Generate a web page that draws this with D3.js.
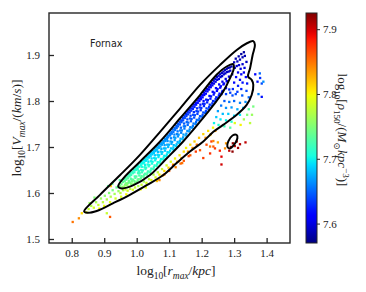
<!DOCTYPE html>
<html>
<head>
<meta charset="utf-8">
<script src="https://cdn.jsdelivr.net/npm/d3@7"></script>
<style>
  body { margin: 0; background: #fff; }
  svg { display: block; }
  .tick-label { font-family: "Liberation Serif", "DejaVu Serif", serif; font-size: 11px; fill: #222; }
  .math { font-family: "Liberation Serif", "DejaVu Serif", serif; fill: #222; }
</style>
</head>
<body>
<div id="chart"></div>
<script>
// scatter points: [log10 rmax, log10 vmax, log10 rho150]
const bandLower = [
  [0.948,1.615,7.75],[0.953,1.619,7.74],[0.956,1.613,7.755],
  [0.961,1.630,7.725],[0.958,1.624,7.735],[0.964,1.618,7.75],[0.962,1.614,7.76],
  [0.972,1.636,7.72],[0.968,1.629,7.73],[0.974,1.622,7.74],[0.969,1.617,7.755],[0.975,1.614,7.76],
  [0.981,1.643,7.715],[0.978,1.636,7.725],[0.984,1.629,7.735],[0.979,1.623,7.74],[0.985,1.618,7.755],[0.982,1.631,7.73],
  [0.992,1.650,7.71],[0.988,1.643,7.72],[0.994,1.636,7.725],[0.989,1.629,7.735],[0.995,1.623,7.745],[0.991,1.619,7.755],
  [1.002,1.657,7.705],[0.998,1.650,7.715],[1.004,1.643,7.72],[0.999,1.636,7.73],[1.005,1.630,7.735],[1.001,1.624,7.745],[1.006,1.648,7.72],
  [1.012,1.664,7.70],[1.008,1.657,7.71],[1.014,1.650,7.715],[1.009,1.643,7.72],[1.015,1.637,7.73],[1.011,1.630,7.74],[1.007,1.647,7.715],
  [1.022,1.671,7.695],[1.018,1.664,7.70],[1.024,1.656,7.71],[1.019,1.649,7.715],[1.025,1.642,7.725],[1.021,1.635,7.735],[1.016,1.657,7.705],
  [1.032,1.678,7.69],[1.028,1.670,7.695],[1.034,1.662,7.705],[1.029,1.655,7.71],[1.035,1.647,7.72],[1.031,1.640,7.73],[1.026,1.661,7.70],
  [1.042,1.685,7.685],[1.038,1.677,7.69],[1.044,1.669,7.70],[1.039,1.661,7.705],[1.045,1.653,7.715],[1.041,1.645,7.725],[1.036,1.668,7.695],
  [1.052,1.691,7.68],[1.048,1.684,7.685],[1.054,1.676,7.695],[1.049,1.668,7.70],[1.055,1.660,7.71],[1.051,1.652,7.72],[1.046,1.675,7.69],
  [1.062,1.699,7.675],[1.058,1.691,7.68],[1.064,1.683,7.69],[1.059,1.675,7.695],[1.065,1.667,7.705],[1.061,1.659,7.715],[1.056,1.682,7.685],
  [1.072,1.706,7.67],[1.068,1.698,7.675],[1.074,1.690,7.685],[1.069,1.682,7.69],[1.075,1.674,7.70],[1.071,1.666,7.71],[1.066,1.689,7.68],
  [1.082,1.713,7.665],[1.078,1.705,7.67],[1.084,1.697,7.68],[1.079,1.689,7.685],[1.085,1.681,7.695],[1.081,1.673,7.705],[1.076,1.696,7.675],
  [1.092,1.721,7.66],[1.088,1.713,7.665],[1.094,1.705,7.675],[1.089,1.697,7.68],[1.095,1.689,7.69],[1.091,1.680,7.70],[1.086,1.704,7.67]
];
const bandUpper = [
  [1.102,1.729,7.655],[1.097,1.721,7.66],[1.104,1.712,7.672],[1.099,1.705,7.675],[1.106,1.697,7.685],[1.100,1.688,7.695],[1.095,1.713,7.665],
  [1.111,1.738,7.65],[1.108,1.729,7.655],[1.115,1.721,7.665],[1.109,1.711,7.672],[1.114,1.704,7.68],[1.112,1.695,7.69],[1.106,1.719,7.66],
  [1.122,1.746,7.645],[1.118,1.737,7.655],[1.124,1.728,7.66],[1.119,1.720,7.67],[1.126,1.711,7.675],[1.121,1.702,7.69],[1.116,1.727,7.66],
  [1.132,1.754,7.64],[1.127,1.745,7.65],[1.134,1.736,7.66],[1.129,1.727,7.665],[1.135,1.718,7.675],[1.131,1.709,7.685],[1.126,1.734,7.655],
  [1.142,1.763,7.635],[1.138,1.754,7.645],[1.145,1.745,7.655],[1.139,1.736,7.66],[1.144,1.727,7.67],[1.141,1.717,7.68],[1.136,1.742,7.65],
  [1.152,1.772,7.63],[1.148,1.763,7.64],[1.154,1.754,7.65],[1.149,1.745,7.655],[1.156,1.735,7.665],[1.151,1.725,7.675],[1.146,1.751,7.645],
  [1.162,1.780,7.625],[1.158,1.771,7.635],[1.164,1.762,7.645],[1.159,1.753,7.65],[1.165,1.743,7.66],[1.161,1.734,7.67],[1.156,1.760,7.64],
  [1.172,1.788,7.62],[1.168,1.779,7.63],[1.174,1.770,7.64],[1.169,1.761,7.645],[1.175,1.751,7.655],[1.171,1.742,7.665],[1.166,1.768,7.635],
  [1.182,1.796,7.618],[1.178,1.787,7.625],[1.184,1.778,7.635],[1.179,1.769,7.64],[1.185,1.759,7.65],[1.181,1.750,7.66],[1.176,1.776,7.63],
  [1.192,1.805,7.612],[1.188,1.796,7.62],[1.194,1.786,7.63],[1.189,1.777,7.635],[1.195,1.767,7.645],[1.191,1.758,7.655],[1.186,1.784,7.625],
  [1.202,1.813,7.608],[1.198,1.804,7.615],[1.204,1.794,7.625],[1.199,1.785,7.63],[1.205,1.775,7.64],[1.201,1.766,7.65],[1.196,1.792,7.62],
  [1.212,1.822,7.605],[1.208,1.813,7.612],[1.214,1.803,7.62],[1.209,1.794,7.627],[1.215,1.784,7.635],[1.211,1.774,7.645],[1.206,1.800,7.617],
  [1.222,1.830,7.60],[1.218,1.821,7.608],[1.224,1.811,7.617],[1.219,1.802,7.623],[1.225,1.792,7.63],[1.221,1.782,7.64],
  [1.232,1.839,7.598],[1.228,1.830,7.605],[1.234,1.820,7.613],[1.229,1.810,7.62],[1.235,1.800,7.628],[1.231,1.790,7.638],
  [1.242,1.848,7.595],[1.238,1.838,7.602],[1.244,1.828,7.61],[1.239,1.818,7.617],[1.245,1.808,7.625],[1.241,1.799,7.635],
  [1.252,1.855,7.592],[1.248,1.846,7.598],[1.254,1.836,7.606],[1.249,1.826,7.612],[1.255,1.816,7.62],[1.251,1.807,7.63],
  [1.262,1.861,7.59],[1.258,1.852,7.596],[1.264,1.842,7.603],[1.259,1.832,7.61],[1.265,1.822,7.617],[1.261,1.815,7.625],
  [1.272,1.867,7.588],[1.268,1.858,7.594],[1.274,1.848,7.60],[1.269,1.838,7.606],[1.275,1.828,7.614],
  [1.282,1.872,7.585],[1.278,1.863,7.592],[1.284,1.853,7.598],[1.279,1.843,7.605],
  [1.292,1.875,7.585],[1.288,1.866,7.59],[1.294,1.858,7.597]
];
const bandFill = [
  [0.966,1.633,7.725],[0.963,1.626,7.735],[0.967,1.621,7.745],
  [0.977,1.640,7.72],[0.973,1.632,7.73],[0.976,1.626,7.74],[0.971,1.620,7.75],
  [0.987,1.646,7.715],[0.983,1.639,7.72],[0.986,1.625,7.745],[0.983,1.620,7.75],
  [0.997,1.653,7.71],[0.993,1.645,7.715],[0.996,1.633,7.73],[0.993,1.626,7.74],
  [1.004,1.660,7.705],[1.003,1.652,7.71],[1.008,1.638,7.725],[1.003,1.628,7.74],
  [1.017,1.667,7.70],[1.013,1.660,7.705],[1.016,1.645,7.72],[1.013,1.633,7.735],
  [1.027,1.674,7.695],[1.023,1.666,7.70],[1.027,1.652,7.715],[1.023,1.639,7.73],
  [1.037,1.681,7.69],[1.033,1.673,7.695],[1.037,1.658,7.71],[1.033,1.644,7.725],
  [1.047,1.688,7.685],[1.043,1.680,7.69],[1.047,1.664,7.705],[1.043,1.649,7.72],
  [1.057,1.695,7.68],[1.053,1.687,7.685],[1.057,1.671,7.70],[1.053,1.656,7.715],
  [1.067,1.702,7.675],[1.063,1.694,7.68],[1.067,1.678,7.695],[1.063,1.663,7.71],
  [1.077,1.709,7.67],[1.073,1.701,7.675],[1.077,1.685,7.69],[1.073,1.670,7.705],
  [1.087,1.717,7.665],[1.083,1.709,7.67],[1.087,1.692,7.685],[1.083,1.677,7.70],
  [1.097,1.725,7.66],[1.093,1.717,7.665],[1.097,1.700,7.68],[1.093,1.684,7.695],
  [1.107,1.733,7.655],[1.103,1.725,7.66],[1.107,1.707,7.675],[1.103,1.692,7.69],
  [1.117,1.741,7.65],[1.113,1.733,7.655],[1.117,1.715,7.67],[1.113,1.699,7.685],
  [1.127,1.750,7.645],[1.123,1.741,7.65],[1.127,1.723,7.665],[1.123,1.706,7.68],
  [1.137,1.758,7.64],[1.133,1.749,7.645],[1.137,1.731,7.66],[1.133,1.713,7.675],
  [1.147,1.767,7.635],[1.143,1.758,7.64],[1.147,1.740,7.655],[1.143,1.721,7.67],
  [1.157,1.776,7.63],[1.153,1.767,7.635],[1.157,1.748,7.65],[1.153,1.729,7.665],
  [1.167,1.784,7.625],[1.163,1.775,7.63],[1.167,1.756,7.645],[1.163,1.738,7.66],
  [1.177,1.792,7.62],[1.173,1.783,7.625],[1.177,1.764,7.64],[1.173,1.746,7.655],
  [1.187,1.801,7.615],[1.183,1.792,7.62],[1.187,1.772,7.635],[1.183,1.754,7.65],
  [1.197,1.809,7.61],[1.193,1.800,7.615],[1.197,1.780,7.63],[1.193,1.762,7.645],
  [1.207,1.818,7.607],[1.203,1.808,7.612],[1.207,1.789,7.627],[1.203,1.770,7.64],
  [1.217,1.826,7.603],[1.213,1.816,7.61],[1.217,1.797,7.623],[1.213,1.778,7.637],
  [1.227,1.835,7.60],[1.223,1.825,7.607],[1.227,1.805,7.62],[1.223,1.787,7.633],
  [1.237,1.844,7.597],[1.233,1.834,7.604],[1.237,1.814,7.617],[1.233,1.795,7.63],
  [1.247,1.852,7.594],[1.243,1.842,7.60],[1.247,1.822,7.614],[1.243,1.804,7.627],
  [1.257,1.858,7.59],[1.253,1.848,7.597],[1.257,1.829,7.61],[1.253,1.812,7.623],
  [1.267,1.864,7.588],[1.263,1.854,7.594],[1.267,1.836,7.606],[1.263,1.820,7.62],
  [1.277,1.870,7.586],[1.273,1.860,7.592],[1.277,1.843,7.603],
  [1.287,1.873,7.585],[1.283,1.864,7.59],[1.287,1.852,7.60]
];
const tipCluster = [
  [1.300,1.884,7.588],[1.305,1.892,7.585],[1.310,1.886,7.59],[1.314,1.897,7.582],[1.318,1.890,7.588],
  [1.322,1.902,7.58],[1.326,1.895,7.585],[1.330,1.906,7.58],[1.333,1.898,7.585],[1.302,1.872,7.595],
  [1.308,1.876,7.592],[1.315,1.878,7.598],[1.320,1.870,7.60],[1.326,1.880,7.595],[1.332,1.872,7.60],
  [1.338,1.885,7.59],[1.312,1.862,7.605],[1.322,1.858,7.61],[1.330,1.862,7.605],[1.336,1.852,7.612],
  [1.318,1.846,7.615],[1.306,1.852,7.61],[1.326,1.840,7.62],[1.300,1.840,7.615],[1.312,1.833,7.625],
  [1.296,1.826,7.628],[1.288,1.818,7.635],[1.305,1.815,7.64],[1.322,1.826,7.625],[1.340,1.838,7.62]
];
const rightFringe = [
  [1.275,1.815,7.635],[1.285,1.825,7.628],[1.295,1.812,7.64],[1.310,1.820,7.635],[1.325,1.812,7.645],
  [1.338,1.822,7.64],[1.345,1.808,7.65],[1.270,1.800,7.645],[1.285,1.798,7.655],[1.300,1.800,7.65],
  [1.318,1.796,7.66],[1.335,1.798,7.665],[1.260,1.790,7.655],[1.275,1.785,7.665],[1.292,1.786,7.668],
  [1.310,1.782,7.675],[1.328,1.785,7.68],[1.250,1.778,7.67],[1.265,1.772,7.68],[1.282,1.772,7.685],
  [1.300,1.768,7.69],[1.318,1.770,7.695],[1.245,1.765,7.685],[1.258,1.760,7.695],[1.275,1.758,7.70],
  [1.292,1.755,7.71],[1.238,1.752,7.70],[1.252,1.748,7.71],[1.270,1.745,7.72],[1.288,1.742,7.73],
  [1.372,1.842,7.62],[1.380,1.850,7.63],[1.365,1.858,7.615],[1.385,1.838,7.64],[1.375,1.815,7.66],
  [1.379,1.860,7.65],[1.390,1.842,7.665],[1.385,1.809,7.62],
  [1.302,1.752,7.79],[1.320,1.748,7.80],[1.349,1.752,7.775],[1.359,1.788,7.745],[1.340,1.770,7.75],
  [1.330,1.760,7.765],[1.355,1.770,7.76],[1.345,1.782,7.73]
];
const lowerGap = [
  [1.005,1.615,7.77],[1.015,1.618,7.78],[1.022,1.625,7.765],[1.030,1.622,7.785],[1.038,1.630,7.775],
  [1.045,1.628,7.79],[1.012,1.608,7.80],[1.028,1.612,7.795],
  [1.052,1.640,7.77],[1.058,1.634,7.79],[1.065,1.645,7.775],[1.070,1.640,7.80],[1.078,1.652,7.78],
  [1.085,1.648,7.81],[1.092,1.660,7.785],[1.098,1.655,7.815],[1.062,1.626,7.82],[1.080,1.638,7.83],
  [1.105,1.668,7.79],[1.112,1.662,7.82],[1.118,1.675,7.80],[1.125,1.668,7.83],[1.132,1.682,7.805],
  [1.138,1.676,7.835],[1.145,1.690,7.81],[1.120,1.656,7.845],[1.140,1.665,7.85],
  [1.152,1.698,7.80],[1.158,1.690,7.835],[1.165,1.705,7.81],[1.172,1.698,7.84],[1.178,1.712,7.815],
  [1.185,1.705,7.85],[1.192,1.720,7.82],[1.165,1.682,7.86],[1.182,1.690,7.87],
  [1.205,1.728,7.815],[1.212,1.720,7.84],[1.220,1.735,7.81],[1.228,1.728,7.845],[1.235,1.742,7.80],
  [1.242,1.735,7.835],[1.215,1.705,7.865],[1.230,1.712,7.87],
  [1.085,1.640,7.85],[1.100,1.648,7.855],[1.112,1.660,7.86],[1.135,1.664,7.855],[1.145,1.670,7.86],
  [1.160,1.680,7.865],[1.070,1.628,7.84]
];
const redClump = [
  [1.290,1.700,7.915],[1.296,1.708,7.92],[1.302,1.702,7.91],[1.285,1.692,7.905],[1.312,1.698,7.915],
  [1.318,1.706,7.91],[1.335,1.710,7.905],[1.308,1.712,7.90],[1.295,1.690,7.92],
  [1.195,1.693,7.86],[1.205,1.676,7.87],[1.226,1.686,7.875],[1.226,1.701,7.85],[1.236,1.701,7.86],
  [1.241,1.697,7.87],[1.256,1.692,7.88],[1.261,1.679,7.895],[1.261,1.662,7.90],[1.272,1.697,7.84],
  [1.236,1.713,7.845],[1.226,1.726,7.81],[1.250,1.710,7.83],[1.275,1.708,7.835]
];
const lowerLeft = [
  [0.852,1.565,7.78],[0.860,1.572,7.77],[0.868,1.568,7.785],[0.875,1.580,7.765],[0.882,1.574,7.78],
  [0.890,1.588,7.76],[0.896,1.580,7.775],[0.902,1.594,7.755],[0.908,1.586,7.77],[0.915,1.600,7.75],
  [0.920,1.592,7.77],[0.926,1.606,7.745],[0.932,1.598,7.765],[0.938,1.612,7.74],[0.944,1.604,7.76],
  [0.950,1.600,7.775],[0.958,1.606,7.77],[0.965,1.608,7.78],[0.972,1.605,7.785],[0.980,1.609,7.775],
  [0.988,1.607,7.79],[0.995,1.612,7.78],[0.885,1.566,7.80],[0.900,1.572,7.795],[0.918,1.580,7.79],
  [0.935,1.588,7.785],[0.952,1.592,7.79],[0.968,1.597,7.80],[0.870,1.590,7.75],[0.912,1.615,7.735],
  [0.925,1.620,7.74],[0.855,1.578,7.76],[0.948,1.628,7.73],[0.920,1.615,7.82],
  [0.803,1.537,7.85],[0.822,1.545,7.84],[0.831,1.556,7.81],[0.845,1.558,7.79],[0.908,1.556,7.78],[0.918,1.548,7.86]
];

// contour lines: [log10 rmax, log10 vmax]
const outerContour = [
  [0.838,1.560],[0.887,1.596],[0.949,1.639],[1.010,1.683],[1.072,1.733],[1.134,1.784],[1.195,1.835],
  [1.256,1.878],[1.308,1.911],[1.338,1.925],[1.359,1.930],[1.364,1.922],[1.357,1.900],[1.349,1.871],
  [1.343,1.853],[1.354,1.846],[1.359,1.835],[1.354,1.813],[1.338,1.791],[1.308,1.770],[1.266,1.748],
  [1.236,1.733],[1.205,1.712],[1.164,1.690],[1.123,1.665],[1.082,1.639],[1.031,1.617],[0.979,1.596],
  [0.928,1.578],[0.877,1.561],[0.848,1.557]
];
const innerContour = [
  [0.943,1.614],[0.959,1.632],[1.010,1.668],[1.072,1.712],[1.133,1.762],[1.195,1.813],[1.246,1.857],
  [1.277,1.875],[1.297,1.880],[1.299,1.871],[1.287,1.849],[1.266,1.820],[1.236,1.791],[1.195,1.755],
  [1.143,1.712],[1.092,1.675],[1.041,1.639],[0.990,1.617],[0.954,1.610]
];
const smallContour = [
  [1.308,1.726],[1.310,1.719],[1.299,1.704],[1.287,1.697],[1.279,1.701],[1.282,1.712],[1.295,1.725]
];

const xTicks = [0.8, 0.9, 1.0, 1.1, 1.2, 1.3, 1.4];
const yTicks = [1.5, 1.6, 1.7, 1.8, 1.9];
const rhoTicks = [7.6, 7.7, 7.8, 7.9];
const panelLabel = 'Fornax';

const W = 366, H = 292;
const plot = {left: 49, right: 290, top: 13, bottom: 243};
const cbar = {left: 306, right: 317, top: 13, bottom: 243};

const x = d3.scaleLinear().domain([0.730, 1.472]).range([plot.left, plot.right]);
const y = d3.scaleLinear().domain([1.4913, 1.9913]).range([plot.bottom, plot.top]);
const rhoDomain = [7.570, 7.925];
const rhoY = d3.scaleLinear().domain(rhoDomain).range([cbar.bottom, cbar.top]);
const rhoT = d3.scaleLinear().domain(rhoDomain).range([0, 1]).clamp(true);

// matplotlib jet
const jetR = d3.scaleLinear().domain([0, 0.35, 0.66, 0.89, 1]).range([0, 0, 1, 1, 0.5]).clamp(true);
const jetG = d3.scaleLinear().domain([0, 0.125, 0.375, 0.64, 0.91, 1]).range([0, 0, 1, 1, 0, 0]).clamp(true);
const jetB = d3.scaleLinear().domain([0, 0.11, 0.34, 0.65, 1]).range([0.5, 1, 1, 0, 0]).clamp(true);
const jet = t => d3.rgb(jetR(t) * 255, jetG(t) * 255, jetB(t) * 255).formatHex();

const svg = d3.select('#chart').append('svg')
  .attr('width', W)
  .attr('height', H);

const clip = svg.append('defs').append('clipPath').attr('id', 'plot-clip');
clip.append('rect')
  .attr('x', plot.left).attr('y', plot.top)
  .attr('width', plot.right - plot.left).attr('height', plot.bottom - plot.top);

const points = [].concat(lowerLeft, lowerGap, redClump, rightFringe, bandLower, bandFill, bandUpper, tipCluster);
const ms = 2.3;

svg.append('g')
  .attr('clip-path', 'url(#plot-clip)')
  .selectAll('rect')
  .data(points)
  .join('rect')
  .attr('x', d => x(d[0]) - ms / 2)
  .attr('y', d => y(d[1]) - ms / 2)
  .attr('width', ms)
  .attr('height', ms)
  .attr('fill', d => jet(rhoT(d[2])));

// contours
const contourLine = d3.line()
  .x(d => x(d[0]))
  .y(d => y(d[1]))
  .curve(d3.curveCatmullRomClosed.alpha(0.5));

svg.append('g')
  .selectAll('path')
  .data([outerContour, innerContour, smallContour])
  .join('path')
  .attr('d', contourLine)
  .attr('fill', 'none')
  .attr('stroke', '#000')
  .attr('stroke-width', 2);

// frame
svg.append('rect')
  .attr('x', plot.left).attr('y', plot.top)
  .attr('width', plot.right - plot.left).attr('height', plot.bottom - plot.top)
  .attr('fill', 'none')
  .attr('stroke', '#262626')
  .attr('stroke-width', 1.4);

// inward ticks
const xAxis = d3.axisBottom(x).tickValues(xTicks).tickSize(-5).tickPadding(6).tickFormat(d3.format('.1f'));
const yAxis = d3.axisLeft(y).tickValues(yTicks).tickSize(-5).tickPadding(9).tickFormat(d3.format('.1f'));

const gx = svg.append('g').attr('transform', `translate(0,${plot.bottom})`).call(xAxis);
const gy = svg.append('g').attr('transform', `translate(${plot.left},0)`).call(yAxis);
[gx, gy].forEach(g => {
  g.select('.domain').remove();
  g.selectAll('.tick line').attr('stroke', '#262626').attr('stroke-width', 1.3);
  g.selectAll('.tick text').attr('class', 'tick-label').attr('font-family', null).attr('font-size', null);
});

// panel label
svg.append('text')
  .attr('x', 90).attr('y', 47)
  .attr('font-family', '"DejaVu Sans", sans-serif')
  .attr('font-size', 9.6)
  .attr('fill', '#222')
  .text(panelLabel);

// colorbar
const grad = svg.select('defs').append('linearGradient')
  .attr('id', 'jet-grad')
  .attr('x1', 0).attr('y1', 1).attr('x2', 0).attr('y2', 0);
grad.selectAll('stop')
  .data(d3.range(0, 1.0001, 0.02))
  .join('stop')
  .attr('offset', d => d)
  .attr('stop-color', d => jet(d));

svg.append('rect')
  .attr('x', cbar.left).attr('y', cbar.top)
  .attr('width', cbar.right - cbar.left).attr('height', cbar.bottom - cbar.top)
  .attr('fill', 'url(#jet-grad)')
  .attr('stroke', '#262626')
  .attr('stroke-width', 1);

const cAxis = d3.axisRight(rhoY).tickValues(rhoTicks).tickSize(3).tickPadding(3).tickFormat(d3.format('.1f'));
const gc = svg.append('g').attr('transform', `translate(${cbar.right},0)`).call(cAxis);
gc.select('.domain').remove();
gc.selectAll('.tick line').attr('stroke', '#262626');
gc.selectAll('.tick text').attr('class', 'tick-label').attr('font-family', null).attr('font-size', null);

// math-style labels
function mathLabel(el, parts, size) {
  const sub = size * 0.7;
  let shift = 0;
  parts.forEach(p => {
    const target = p.sub ? size * 0.28 : p.sup ? -size * 0.38 : 0;
    el.append('tspan')
      .attr('dy', target - shift)
      .attr('font-size', p.sub || p.sup ? sub : size)
      .attr('font-style', p.it ? 'italic' : 'normal')
      .text(p.t);
    shift = target;
  });
}

const xLabel = svg.append('text').attr('class', 'math')
  .attr('x', 176).attr('y', 275).attr('text-anchor', 'middle');
mathLabel(xLabel, [
  {t: 'log'}, {t: '10', sub: true}, {t: '['}, {t: 'r', it: true}, {t: 'max', it: true, sub: true},
  {t: '/'}, {t: 'kpc', it: true}, {t: ']'}
], 13.5);

const yLabel = svg.append('text').attr('class', 'math')
  .attr('text-anchor', 'middle')
  .attr('transform', 'translate(21,128) rotate(-90)');
mathLabel(yLabel, [
  {t: 'log'}, {t: '10', sub: true}, {t: '['}, {t: 'V', it: true}, {t: 'max', it: true, sub: true},
  {t: '/('}, {t: 'km', it: true}, {t: '/'}, {t: 's', it: true}, {t: ')]'}
], 13.5);

const cLabel = svg.append('text').attr('class', 'math')
  .attr('text-anchor', 'middle')
  .attr('transform', 'translate(338,130) rotate(90)');
mathLabel(cLabel, [
  {t: 'log'}, {t: '10', sub: true}, {t: '['}, {t: 'ρ', it: true}, {t: '150', sub: true},
  {t: '/('}, {t: 'M', it: true}, {t: '⊙', sub: true}, {t: 'kpc', it: true}, {t: '−3', sup: true}, {t: ')]'}
], 13);
</script>
</body>
</html>
